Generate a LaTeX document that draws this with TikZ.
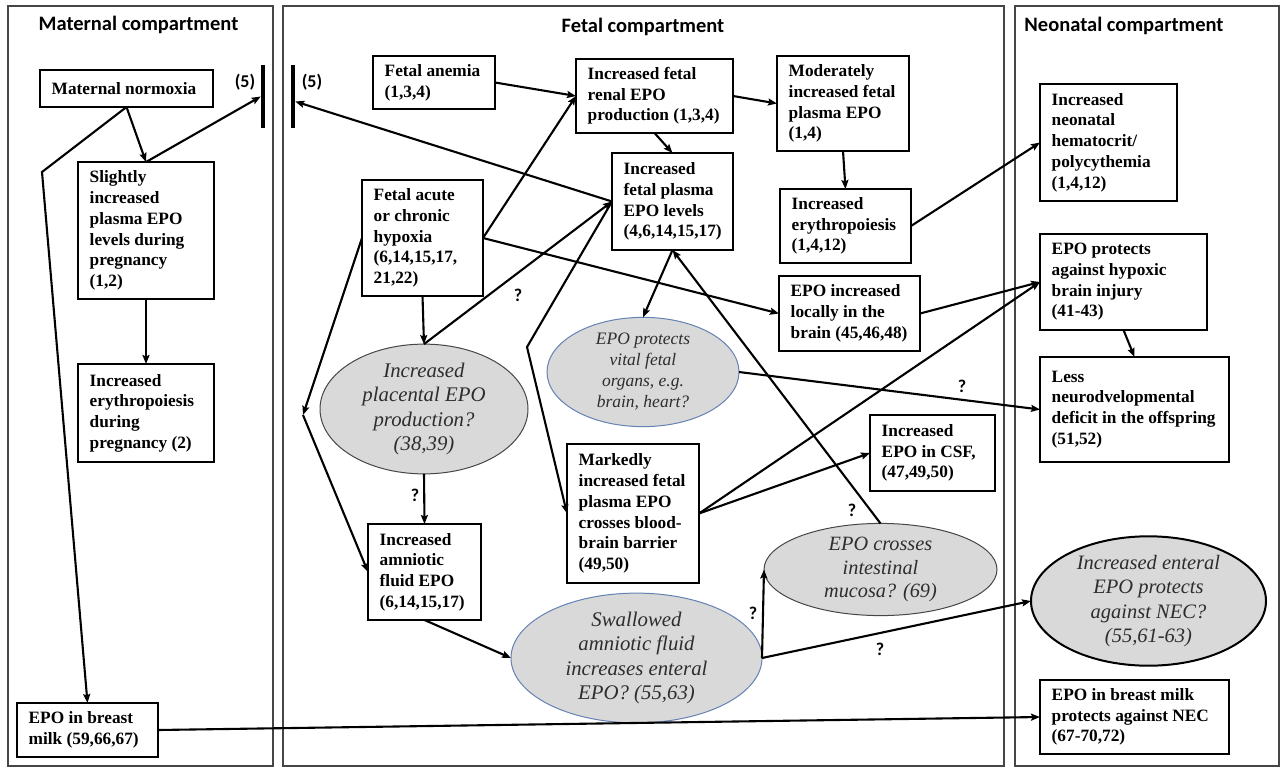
\documentclass[tikz,border=0pt]{standalone}
\usepackage{fontspec}
\setmainfont{Liberation Serif}
\newfontfamily\calib{Carlito}
\usetikzlibrary{shapes.geometric,arrows.meta,calc}
\definecolor{ellfill}{RGB}{217,217,217}
\definecolor{ellblue}{RGB}{100,130,180}
\definecolor{elltext}{RGB}{45,45,45}
\definecolor{compline}{RGB}{70,70,70}
\tikzset{
 comp/.style={draw=compline, line width=1.5pt},
 box/.style={draw=black, line width=1.6pt, inner sep=0pt, outer sep=0pt, rectangle},
 boxtext/.style={font=\fontsize{17.3}{20.7}\selectfont\bfseries, align=left, inner sep=0pt, anchor=west},
 ell/.style={ellipse, fill=ellfill, draw=#1, line width=1pt, inner sep=0pt, outer sep=0pt, align=center, text=elltext, font=\fontsize{20.8}{24.3}\selectfont\itshape},
 conn/.style={line width=2.1pt, -{Stealth[length=9pt,width=7pt,inset=1.5pt]}},
 qm/.style={font=\calib\bfseries\fontsize{18}{20}\selectfont, inner sep=0pt},
 title/.style={font=\calib\bfseries\fontsize{20.5}{24}\selectfont, inner sep=0pt},
 barnode/.style={fill=black, minimum width=4.5pt, minimum height=63pt, inner sep=0pt, outer sep=0pt},
}
\newcommand\bx[6]{%
 \node[box, minimum width={#4-#2}, minimum height={#5-#3}] (#1) at ({(#2+#4)/2},{(#3+#5)/2}) {};
 \node[boxtext] (#1-t) at ($(#1.west)+(11.5,0)$) {#6};
}
\begin{document}
\begin{tikzpicture}[x=1pt,y=-1pt]
\fill[white] (0,0) rectangle (1282,769);
\useasboundingbox (0,0) rectangle (1282,769);
% compartments
\draw[comp] (8,6) rectangle (273,766);
\draw[comp] (283,6) rectangle (1004,766);
\draw[comp] (1015,6) rectangle (1279,766);
\node[title] (tm) at (138.5,25) {Maternal compartment};
\node[title] (tf) at (643,27) {Fetal compartment};
\node[title] (tn) at (1124,26) {Neonatal compartment};
% bars
\node[barnode] (mbar) at (263,96.5) {};
\node[barnode] (fbar) at (293,96.5) {};
\node[qm] (m5) at (245,82) {(5)};
\node[qm] (f5) at (312,82) {(5)};
% boxes
\bx{norm}{40}{70}{213}{107}{Maternal normoxia}
\bx{slight}{78}{162}{214}{299}{Slightly\\increased\\plasma EPO\\levels during\\pregnancy\\(1,2)}
\bx{eryp}{78}{364}{214}{462}{Increased\\erythropoiesis\\during\\pregnancy (2)}
\bx{bmilk}{17}{703}{158}{757}{EPO in breast\\milk (59,66,67)}
\bx{anemia}{373}{56}{495}{109}{Fetal anemia\\(1,3,4)}
\bx{renal}{576}{59}{733}{133}{Increased fetal\\renal EPO\\production (1,3,4)}
\bx{moderate}{777}{56}{909}{151}{Moderately\\increased fetal\\plasma EPO\\(1,4)}
\bx{plasma}{612}{153}{733}{250}{Increased\\fetal plasma\\EPO levels\\(4,6,14,15,17)}
\bx{hyp}{362}{180}{483}{296}{Fetal acute\\or chronic\\hypoxia\\(6,14,15,17,\\21,22)}
\bx{eryth}{780}{189}{911}{263}{Increased\\erythropoiesis\\(1,4,12)}
\bx{local}{779}{276}{920}{351}{EPO increased\\locally in the\\brain (45,46,48)}
\bx{amn}{368}{524}{481}{620}{Increased\\amniotic\\fluid EPO\\(6,14,15,17)}
\bx{mark}{567}{444}{699}{583}{Markedly\\increased fetal\\plasma EPO\\crosses blood-\\brain barrier\\(49,50)}
\bx{csf}{870}{415}{995}{491}{Increased\\EPO in CSF,\\(47,49,50)}
\bx{hemat}{1040}{84}{1177}{201}{Increased\\neonatal\\hematocrit/\\polycythemia\\(1,4,12)}
\bx{brain}{1040}{234}{1207}{330}{EPO protects\\against hypoxic\\brain injury\\(41-43)}
\bx{less}{1040}{357}{1229}{462}{Less\\neurodvelopmental\\deficit in the offspring\\(51,52)}
\bx{nbmilk}{1040}{680}{1229}{754}{EPO in breast milk\\protects against NEC\\(67-70,72)}
% ellipses
\node[ell=compline, minimum width=208pt, minimum height=106pt] (plac) at (424,409) {Increased\\placental EPO\\production?\\(38,39)};
\node[ell=ellblue, minimum width=192pt, minimum height=102pt, font=\fontsize{17.5}{21}\selectfont\itshape] (vital) at (643,372) {EPO protects\\vital fetal\\organs, e.g.\\brain, heart?};
\node[ell=ellblue, minimum width=251pt, minimum height=120pt] (swal) at (636.5,658) {Swallowed\\amniotic fluid\\increases enteral\\EPO? (55,63)};
\node[ell=compline, minimum width=233pt, minimum height=91pt, font=\fontsize{20.3}{23.7}\selectfont\itshape] (cross) at (880.5,569.5) {EPO crosses\\intestinal\\mucosa? (69)};
\node[ell=black, line width=2pt, minimum width=235pt, minimum height=126pt, font=\fontsize{20.5}{24.3}\selectfont\itshape] (ent) at (1148.5,601) {Increased enteral\\EPO protects\\against NEC?\\(55,61-63)};
% connectors
\coordinate (mb1) at (42,172);
\coordinate (hb1) at (303,415);
\coordinate (pb1) at (527,347);
\draw[conn] (norm.south) -- (slight.north);
\draw[conn] (slight.north) -- (mbar.west);
\draw[conn] (norm.south) -- (mb1) -- (bmilk.north);
\draw[conn] (slight.south) -- (eryp.north);
\draw[conn] (bmilk.east) -- (nbmilk.west);
\draw[conn] (anemia.east) -- (renal.west);
\draw[conn] (renal.east) -- (moderate.west);
\draw[conn] (renal.south) -- (plasma.north);
\draw[conn] (plasma.west) -- ($(fbar.east)+(0,5)$);
\draw[conn] (hyp.east) -- (renal.west);
\draw[conn] (hyp.east) -- (local.west);
\draw[conn] (hyp.west) -- (hb1);
\draw[conn] (hb1) -- (amn.west);
\draw[conn] (hyp.south) -- (plac.north);
\draw[conn] (plac.north) -- (plasma.west);
\draw[conn] (plasma.west) -- (pb1) -- (mark.west);
\draw[conn] (plasma.south) -- (vital.north);
\draw[conn] (cross.north) -- (plasma.south);
\draw[conn] (moderate.south) -- (eryth.north);
\draw[conn] (eryth.east) -- (hemat.west);
\draw[conn] (local.east) -- (brain.west);
\draw[conn] (mark.east) -- (brain.west);
\draw[conn] (mark.east) -- (csf.west);
\draw[conn] (brain.south) -- (less.north);
\draw[conn] (vital.east) -- (less.west);
\draw[conn] (plac.south) -- (amn.north);
\draw[conn] (amn.south) -- (swal.west);
\draw[conn] (swal.east) -- (cross.west);
\draw[conn] (swal.east) -- (ent.west);
% question marks
\node[qm] (q1) at (518,295) {?};
\node[qm] (q2) at (415,495) {?};
\node[qm] (q3) at (753,613) {?};
\node[qm] (q4) at (852,510) {?};
\node[qm] (q5) at (962,386) {?};
\node[qm] (q6) at (880,649) {?};
\end{tikzpicture}
\end{document}
